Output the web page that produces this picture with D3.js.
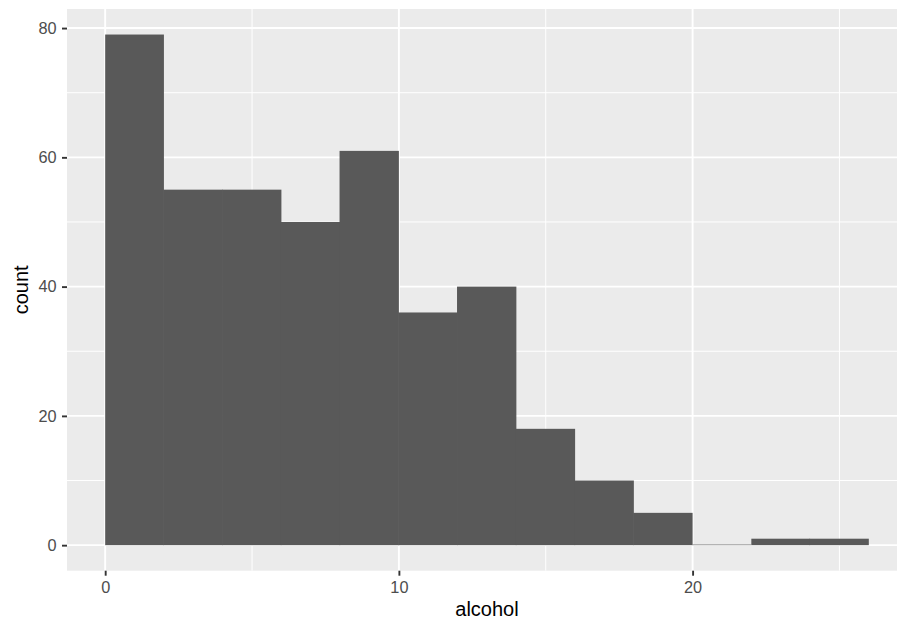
<!DOCTYPE html>
<html><head><meta charset="utf-8">
<script src="https://cdn.jsdelivr.net/npm/d3@7"></script>
<style>body{margin:0;background:#fff}svg{display:block}text{font-family:"Liberation Sans",Arial,Helvetica,sans-serif}</style>
</head><body>
<script>
const binStarts = [0,2,4,6,8,10,12,14,16,18,20,22,24];
const binWidth = 2;
const counts = [79,55,55,50,61,36,40,18,10,5,0,1,1];
const xTicks = [0,10,20];
const xMinor = [5,15,25];
const yTicks = [0,20,40,60,80];
const yMinor = [10,30,50,70];

const W = 897, H = 625;
const panel = {left:67, top:9, right:907, bottom:570.7};
const svg = d3.select("body").append("svg").attr("width",W).attr("height",H);

const xMax = 26, yMax = d3.max(counts);
const x = d3.scaleLinear().domain([-0.05*xMax, xMax*1.05]).range([panel.left, panel.right]);
const y = d3.scaleLinear().domain([-0.05*yMax, yMax*1.05]).range([panel.bottom, panel.top]);

svg.append("rect").attr("x",panel.left).attr("y",panel.top)
  .attr("width",panel.right-panel.left).attr("height",panel.bottom-panel.top).attr("fill","#EBEBEB");

const g = svg.append("g");
xMinor.forEach(v=>g.append("line").attr("x1",x(v)).attr("x2",x(v)).attr("y1",panel.top).attr("y2",panel.bottom).attr("stroke","#fff").attr("stroke-width",1));
yMinor.forEach(v=>g.append("line").attr("y1",y(v)).attr("y2",y(v)).attr("x1",panel.left).attr("x2",panel.right).attr("stroke","#fff").attr("stroke-width",1));
xTicks.forEach(v=>g.append("line").attr("x1",x(v)).attr("x2",x(v)).attr("y1",panel.top).attr("y2",panel.bottom).attr("stroke","#fff").attr("stroke-width",1.9));
yTicks.forEach(v=>g.append("line").attr("y1",y(v)).attr("y2",y(v)).attr("x1",panel.left).attr("x2",panel.right).attr("stroke","#fff").attr("stroke-width",1.9));

// bars: fills first, then a shared underlay to hide antialiasing seams
const bars = svg.append("g");
bars.selectAll("rect").data(counts).join("rect")
  .attr("x",(d,i)=>x(binStarts[i]) - (i>0 && counts[i-1]>0 && d>0 ? 0.6 : 0))
  .attr("width",(d,i)=>x(binStarts[i]+binWidth)-x(binStarts[i]) + (i>0 && counts[i-1]>0 && d>0 ? 0.6 : 0))
  .attr("y",d=>y(d)-(d===0?0.6:0))
  .attr("height",d=>Math.max(y(0)-y(d),0.6))
  .attr("fill","#595959");

// axes
const xAxis = d3.axisBottom(x).tickValues(xTicks).tickSize(5).tickPadding(6);
const xa = svg.append("g").attr("transform",`translate(0,${panel.bottom})`).call(xAxis);
const yAxis = d3.axisLeft(y).tickValues(yTicks).tickSize(5).tickPadding(5.5);
const ya = svg.append("g").attr("transform",`translate(${panel.left},0)`).call(yAxis);
[xa,ya].forEach(a=>{
  a.attr("font-size",null).attr("font-family",null);
  a.select(".domain").remove();
  a.selectAll(".tick line").attr("stroke","#333333").attr("stroke-width",1.9);
  a.selectAll(".tick text").attr("fill","#4D4D4D").style("font-size","16.3px");
});

svg.append("text").attr("x",(panel.left+panel.right)/2).attr("y",616)
  .attr("text-anchor","middle").attr("fill","#000").style("font-size","20px").text("alcohol");
svg.append("text").attr("transform",`translate(28,${(panel.top+panel.bottom)/2}) rotate(-90)`)
  .attr("text-anchor","middle").attr("fill","#000").style("font-size","20px").text("count");
</script>
</body></html>
